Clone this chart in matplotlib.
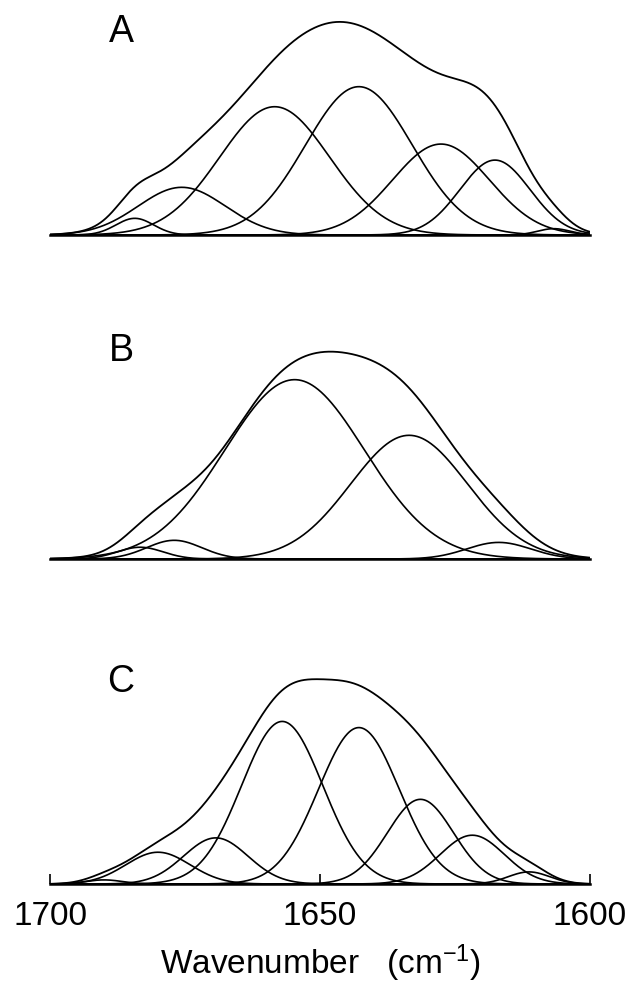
import numpy as np
import matplotlib
matplotlib.use('Agg')
import matplotlib.pyplot as plt

plt.rcParams['font.family'] = 'Liberation Sans'
plt.rcParams['mathtext.default'] = 'regular'

# Fitted component bands:
# centre (cm-1), peak height (relative to envelope maximum), FWHM (cm-1)
a_centers = [1684.3, 1675.6, 1658.4, 1642.8, 1627.6, 1617.6, 1606.7]
a_heights = [0.079, 0.226, 0.608, 0.703, 0.431, 0.355, 0.030]
a_fwhm = [8.2, 19.0, 24.0, 23.3, 21.1, 15.3, 7.0]

b_centers = [1683.3, 1677.0, 1654.7, 1633.5, 1616.9]
b_heights = [0.056, 0.089, 0.854, 0.589, 0.079]
b_fwhm = [10.0, 12.0, 30.5, 25.5, 14.0]

c_centers = [1690.0, 1680.0, 1669.3, 1657.0, 1642.8, 1631.4, 1621.8, 1611.3]
c_heights = [0.020, 0.155, 0.225, 0.793, 0.763, 0.413, 0.238, 0.059]
c_fwhm = [8.0, 14.0, 14.0, 17.7, 17.6, 14.4, 14.0, 9.0]

panel_labels = ['A', 'B', 'C']
xticks = [1700, 1650, 1600]
x_label = 'Wavenumber   (cm$^{-1}$)'

panels = [(a_centers, a_heights, a_fwhm),
          (b_centers, b_heights, b_fwhm),
          (c_centers, c_heights, c_fwhm)]

# layout in pixels (figure is 627 x 986)
W, H = 627.0, 986.0
baseline_px = [235, 559, 884]      # y of baseline from top
unit_px = [211, 210, 205]          # pixels per unit height
label_base_px = [42, 361, 692]     # baseline of panel letters
ax_h_px = 230

wn = np.linspace(1700, 1600, 1201)


def band(x, c, h, w):
    return h * np.exp(-4 * np.log(2) * (x - c) ** 2 / w ** 2)


fig = plt.figure(figsize=(6.27, 9.86), dpi=100)

for i, (cen, hgt, fw) in enumerate(panels):
    ax = fig.add_axes([50 / W, 1 - baseline_px[i] / H, 540 / W, ax_h_px / H])
    total = np.zeros_like(wn)
    for c, h, w in zip(cen, hgt, fw):
        y = band(wn, c, h, w)
        total += y
        ax.plot(wn, y, color='black', lw=1.2)
    ax.plot(wn, total, color='black', lw=1.3)

    ax.set_xlim(1700, 1600)
    ax.set_ylim(0, ax_h_px / unit_px[i])
    for s in ['top', 'left', 'right']:
        ax.spines[s].set_visible(False)
    ax.spines['bottom'].set_linewidth(1.8)
    ax.set_yticks([])
    if i < 2:
        ax.set_xticks([])
    else:
        ax.set_xticks(xticks)
        ax.tick_params(axis='x', direction='in', length=7, width=1.2,
                       pad=12, labelsize=24)
        ax.set_xlabel(x_label, fontsize=24, labelpad=8)

    fig.text(121 / W, 1 - label_base_px[i] / H, panel_labels[i],
             fontsize=27, ha='center', va='baseline')

fig.savefig('out.png', dpi=100)
